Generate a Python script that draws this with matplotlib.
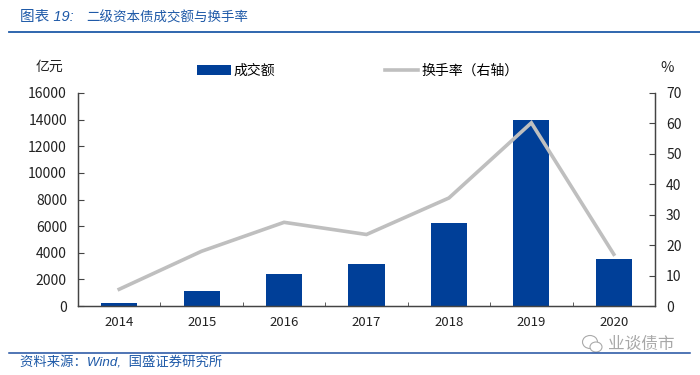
# -*- coding: utf-8 -*-
import matplotlib
matplotlib.use('Agg')
import matplotlib.pyplot as plt
from matplotlib.patches import Ellipse

plt.rcParams['font.family'] = ['Noto Sans CJK SC', 'DejaVu Sans']

#data
years = ['2014', '2015', '2016', '2017', '2018', '2019', '2020']
volume = [250, 1150, 2400, 3150, 6200, 14000, 3500]
turnover = [5.5, 18, 27.5, 23.5, 35.5, 60.2, 17]
left_ticks = [0, 2000, 4000, 6000, 8000, 10000, 12000, 14000, 16000]
right_ticks = [0, 10, 20, 30, 40, 50, 60, 70]

W = 700.; H = 375.
blue = '#003F98'
gray = '#BFBFBF'
title_blue = '#1F5AA8'
latin_first = ['Liberation Sans', 'Noto Sans CJK SC']

fig = plt.figure(figsize=(7, 3.75), dpi=100)
ax = fig.add_axes([78 / W, 1 - 306 / H, 577 / W, 213 / H])

x = list(range(len(years)))
bars = ax.bar(x, volume, width=0.44, color=blue, label='成交额')
ax.set_xlim(-0.5, 6.5)
ax.set_ylim(0, 16000)
ax.set_yticks(left_ticks)
ax.set_xticks(x)
ax.set_xticklabels(years)
ax.set_xticks([i - 0.5 for i in range(8)], minor=True)
ax.tick_params(axis='x', which='major', length=0, pad=7, labelsize=9.5, colors='#222222')
ax.tick_params(axis='x', which='minor', length=3, direction='in', color='#444444')
ax.tick_params(axis='y', length=4, direction='in', pad=8, labelsize=10, colors='#222222', color='#444444')

ax2 = ax.twinx()
line, = ax2.plot(x, turnover, color=gray, lw=2.6, solid_joinstyle='miter', label='换手率（右轴）')
ax2.set_ylim(0, 70)
ax2.set_yticks(right_ticks)
ax2.tick_params(axis='y', length=4, direction='in', pad=8, labelsize=10, colors='#222222', color='#444444')

for a in (ax, ax2):
    a.spines['top'].set_visible(False)
    for s in ('left', 'right', 'bottom'):
        a.spines[s].set_color('#444444')
        a.spines[s].set_linewidth(0.9)

#legend entries sit separately in the reference, one for each series
fig.legend(handles=[bars], labels=['成交额'], loc='center left', bbox_to_anchor=(197 / W, 1 - 70.5 / H),
           frameon=False, fontsize=10, handlelength=2.45, handleheight=0.72, handletextpad=0.15,
           borderpad=0, borderaxespad=0)
fig.legend(handles=[line], labels=['换手率（右轴）'], loc='center left', bbox_to_anchor=(385 / W, 1 - 70.5 / H),
           frameon=False, fontsize=10, handlelength=2.4, handletextpad=0.25,
           borderpad=0, borderaxespad=0)

fig.text(49 / W, 1 - 67 / H, '亿元', ha='center', va='center', fontsize=10, color='#222222')
fig.text(667 / W, 1 - 68 / H, '%', ha='center', va='center', fontsize=10.5, color='#222222')

#title and source
fig.text(20 / W, 1 - 17 / H, '图表 19:', ha='left', va='center', fontsize=10.5, color=title_blue,
         style='italic', family=latin_first)
fig.text(86 / W, 1 - 17 / H, '二级资本债成交额与换手率', ha='left', va='center', fontsize=9.7, color=title_blue)
fig.add_artist(plt.Line2D([9 / W, 700 / W], [1 - 32 / H] * 2, color='#1F5AA8', lw=1.3))
fig.add_artist(plt.Line2D([9 / W, 690 / W], [1 - 352.5 / H] * 2, color='#1F4FA0', lw=1.1))
fig.text(20 / W, 1 - 362.5 / H, '资料来源：Wind,  国盛证券研究所', ha='left', va='center', fontsize=9.6,
         color=title_blue, style='italic', family=latin_first)

#watermark
fig.text(608 / W, 1 - 344 / H, '业谈债市', ha='left', va='center', fontsize=12, color='#A8A8A8')
logo = fig.add_axes([581 / W, 1 - 356 / H, 24 / W, 24 / H])
logo.set_xlim(0, 24); logo.set_ylim(24, 0); logo.axis('off')
logo.add_patch(Ellipse((9, 10), 15, 13, fc='white', ec='#AAAAAA', lw=0.8))
logo.add_patch(Ellipse((15, 15), 12, 10, fc='white', ec='#AAAAAA', lw=0.8))

fig.savefig('out.png', dpi=100)
